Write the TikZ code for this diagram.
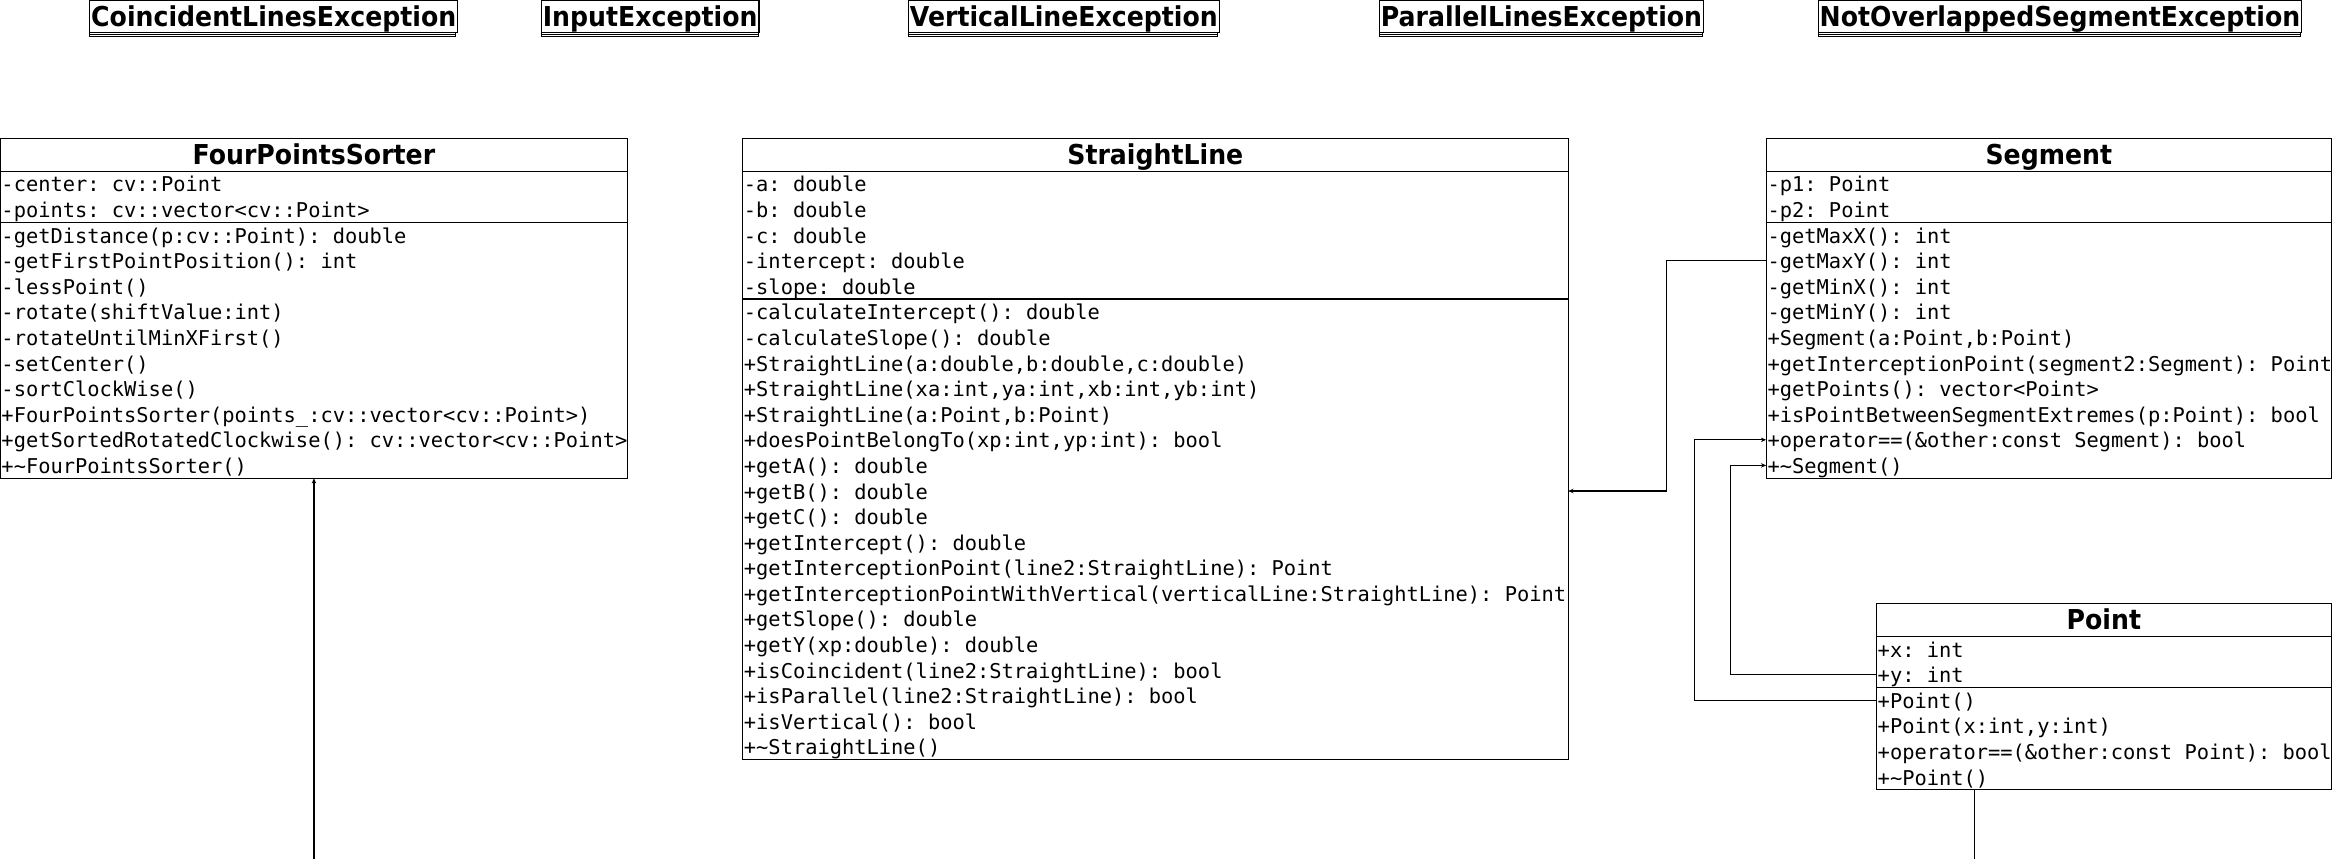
\documentclass[tikz,border=0pt]{standalone}
\usepackage{fontspec}
\setmonofont{DejaVu Sans Mono}
\newfontfamily\umlheadfont{DejaVu Sans}[FakeStretch=0.92]
\usetikzlibrary{arrows.meta}

% one compartment of a class box: rows of members
\newcommand{\umlrows}[1]{\setbox\strutbox\hbox{\vrule height14pt depth3.2pt width0pt}%
    \spaceskip=\fontcharwd\font`M\relax \xspaceskip=\spaceskip
    \begin{tabular}{@{}l@{}}#1\end{tabular}}

\begin{document}
\begin{tikzpicture}[x=1pt, y=-1pt, line width=0.8pt,
    classhead/.style={draw, anchor=north west, outer sep=0pt, inner xsep=1pt, inner ysep=0pt,
        minimum height=22pt, text height=17.5pt, text depth=4.5pt,
        font=\umlheadfont\bfseries\fontsize{18.4}{20}\selectfont},
    classpart/.style={draw, anchor=north west, outer sep=0pt, inner xsep=1pt, inner ysep=0pt,
        align=left, font=\ttfamily\fontsize{13.7}{17.2}\selectfont},
    exhead/.style={classhead, anchor=north},
    expart/.style={draw, anchor=north west, outer sep=0pt, inner sep=0pt, minimum height=1.2pt},
    assoc/.style={-{Stealth[length=3.5pt, width=3pt]}}]
    \useasboundingbox (0,0) rectangle (1568,577);

    % Exception classes along the top edge
    \node[exhead, minimum width=246pt] (exCoin) at (184,0) {CoincidentLinesException};
    \node[expart, minimum width=246pt] (exCoinA) at (exCoin.south west) {};
    \node[expart, minimum width=246pt] (exCoinM) at (exCoinA.south west) {};
    \node[exhead, minimum width=146pt] (exInput) at (437,0) {InputException};
    \node[expart, minimum width=146pt] (exInputA) at (exInput.south west) {};
    \node[expart, minimum width=146pt] (exInputM) at (exInputA.south west) {};
    \node[exhead, minimum width=208pt] (exVert) at (715,0) {VerticalLineException};
    \node[expart, minimum width=208pt] (exVertA) at (exVert.south west) {};
    \node[expart, minimum width=208pt] (exVertM) at (exVertA.south west) {};
    \node[exhead, minimum width=217pt] (exPar) at (1036,0) {ParallelLinesException};
    \node[expart, minimum width=217pt] (exParA) at (exPar.south west) {};
    \node[expart, minimum width=217pt] (exParM) at (exParA.south west) {};
    \node[exhead, minimum width=324pt] (exOver) at (1384.5,0) {NotOverlappedSegmentException};
    \node[expart, minimum width=324pt] (exOverA) at (exOver.south west) {};
    \node[expart, minimum width=324pt] (exOverM) at (exOverA.south west) {};

    % FourPointsSorter
    \node[classhead, minimum width=422pt] (fps) at (0,93) {FourPointsSorter};
    \node[classpart, text width=420pt] (fpsA) at (fps.south west) {\umlrows{-center: cv::Point\\
        -points: cv::vector<cv::Point>}};
    \node[classpart, text width=420pt] (fpsM) at (fpsA.south west) {\umlrows{-getDistance(p:cv::Point): double\\
        -getFirstPointPosition(): int\\
        -lessPoint()\\
        -rotate(shiftValue:int)\\
        -rotateUntilMinXFirst()\\
        -setCenter()\\
        -sortClockWise()\\
        +FourPointsSorter(points\_:cv::vector<cv::Point>)\\
        +getSortedRotatedClockwise(): cv::vector<cv::Point>\\
        +\textasciitilde FourPointsSorter()}};

    % StraightLine
    \node[classhead, minimum width=555pt] (sl) at (499,93) {StraightLine};
    \node[classpart, text width=553pt] (slA) at (sl.south west) {\umlrows{-a: double\\
        -b: double\\
        -c: double\\
        -intercept: double\\
        -slope: double}};
    \node[classpart, text width=553pt] (slM) at (slA.south west) {\umlrows{-calculateIntercept(): double\\
        -calculateSlope(): double\\
        +StraightLine(a:double,b:double,c:double)\\
        +StraightLine(xa:int,ya:int,xb:int,yb:int)\\
        +StraightLine(a:Point,b:Point)\\
        +doesPointBelongTo(xp:int,yp:int): bool\\
        +getA(): double\\
        +getB(): double\\
        +getC(): double\\
        +getIntercept(): double\\
        +getInterceptionPoint(line2:StraightLine): Point\\
        +getInterceptionPointWithVertical(verticalLine:StraightLine): Point\\
        +getSlope(): double\\
        +getY(xp:double): double\\
        +isCoincident(line2:StraightLine): bool\\
        +isParallel(line2:StraightLine): bool\\
        +isVertical(): bool\\
        +\textasciitilde StraightLine()}};

    % Segment
    \node[classhead, minimum width=380pt] (seg) at (1187,93) {Segment};
    \node[classpart, text width=378pt] (segA) at (seg.south west) {\umlrows{-p1: Point\\
        -p2: Point}};
    \node[classpart, text width=378pt] (segM) at (segA.south west) {\umlrows{-getMaxX(): int\\
        -getMaxY(): int\\
        -getMinX(): int\\
        -getMinY(): int\\
        +Segment(a:Point,b:Point)\\
        +getInterceptionPoint(segment2:Segment): Point\\
        +getPoints(): vector<Point>\\
        +isPointBetweenSegmentExtremes(p:Point): bool\\
        +operator==(\&other:const Segment): bool\\
        +\textasciitilde Segment()}};

    % Point
    \node[classhead, minimum width=306pt] (pt) at (1261,405.6) {Point};
    \node[classpart, text width=304pt] (ptA) at (pt.south west) {\umlrows{+x: int\\
        +y: int}};
    \node[classpart, text width=304pt] (ptM) at (ptA.south west) {\umlrows{+Point()\\
        +Point(x:int,y:int)\\
        +operator==(\&other:const Point): bool\\
        +\textasciitilde Point()}};

    % Associations
    \draw[assoc] ([yshift=-25.8pt]segM.north west) -- ++(-67,0) |- ([yshift=25.8pt]slM.east);
    \draw[assoc] ([yshift=-8.6pt]ptM.north west) -- ++(-122,0) |- ([yshift=-146.2pt]segM.north west);
    \draw[assoc] ([yshift=-25.8pt]ptA.north west) -- ++(-98,0) |- ([yshift=-163.4pt]segM.north west);

    % Lines leaving through the bottom edge
    \coordinate (fpsEnd) at (211,577);
    \draw[assoc] (fpsEnd) -- (fpsM.south);
    \coordinate (ptEnd) at (1327,577);
    \draw (ptEnd) -- (ptM.south west -| ptEnd);
\end{tikzpicture}
\end{document}
